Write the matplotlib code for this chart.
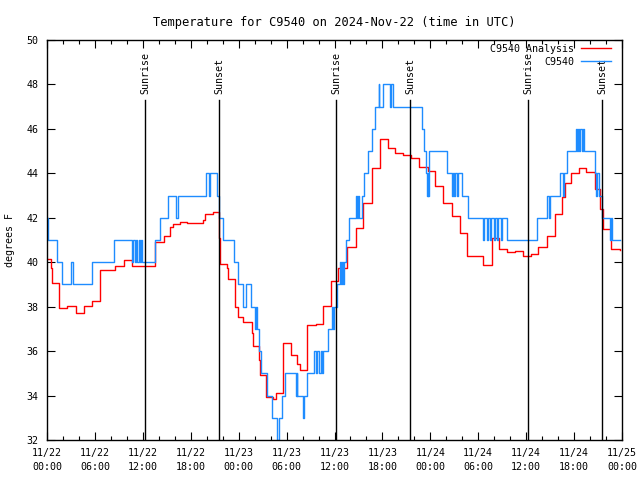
import matplotlib
matplotlib.use('Agg')
import matplotlib.pyplot as plt
import matplotlib.transforms as mtransforms
from matplotlib.ticker import MultipleLocator

plt.rcParams['font.family'] = ['DejaVu Sans Mono']
plt.rcParams['font.size'] = 7.2

# hours since 2024-11-22 00:00 UTC
obs_hours = [0.0, 0.09, 1.29, 1.84, 2.97, 3.22, 5.60, 8.39, 10.68, 10.81, 11.02, 11.14,
             11.33, 11.46, 11.65, 11.77, 11.90, 13.49, 14.15, 15.19, 16.12, 16.37, 19.91,
             20.29, 20.41, 21.32, 21.50, 22.08, 23.42, 23.95, 24.58, 24.92, 25.51, 26.01,
             26.13, 26.26, 26.55, 26.80, 27.51, 28.21, 28.86, 29.01, 29.46, 29.80, 31.18,
             31.27, 31.34, 32.09, 32.24, 32.52, 33.47, 33.68, 33.81, 34.12, 34.25, 34.44,
             34.56, 35.15, 35.65, 35.81, 35.94, 36.28, 36.69, 36.82, 37.00, 37.10, 37.23,
             37.40, 37.82, 38.66, 38.76, 38.94, 39.07, 39.48, 39.73, 40.23, 40.66, 41.07,
             41.51, 41.60, 42.07, 42.95, 43.11, 43.36, 46.99, 47.21, 47.40, 47.52, 47.65,
             47.77, 47.83, 50.05, 50.68, 50.80, 50.97, 51.09, 51.28, 51.41, 51.93, 52.76,
             54.63, 54.78, 55.04, 55.16, 55.47, 55.60, 55.91, 56.04, 56.35, 56.48, 56.79,
             56.94, 57.56, 61.40, 62.67, 62.86, 62.99, 64.18, 64.61, 64.74, 65.11, 66.20,
             66.33, 66.49, 66.61, 66.80, 66.93, 67.12, 67.28, 68.56, 68.75, 68.93, 69.06,
             69.54, 70.54, 70.63, 70.79, 71.75]
obs_temp = [42, 41, 40, 39, 40, 39, 40, 41, 40, 41, 40, 41,
            40, 41, 40, 41, 40, 41, 42, 43, 42, 43, 44,
            43, 44, 43, 42, 41, 40, 39, 38, 39, 38, 37,
            38, 37, 36, 35, 34, 33, 32, 33, 34, 35, 34,
            35, 34, 33, 34, 35, 36, 35, 36, 35, 36, 35,
            36, 37, 38, 37, 38, 39, 40, 39, 40, 39, 40,
            41, 42, 43, 42, 43, 42, 43, 44, 45, 46, 47,
            48, 47, 48, 47, 48, 47, 46, 45, 44, 43, 44,
            43, 45, 44, 43, 44, 43, 44, 43, 44, 43, 42,
            41, 42, 41, 42, 41, 42, 41, 42, 41, 42, 41,
            42, 41, 42, 43, 42, 43, 44, 43, 44, 45, 46,
            45, 46, 45, 46, 45, 46, 45, 44, 43, 44, 43,
            42, 41, 42, 41, 41]

ana_hours = [0.0, 0.46, 0.66, 1.50, 2.54, 3.59, 4.63, 5.67, 6.60, 8.51, 9.64, 10.68,
             13.52, 14.65, 15.40, 15.78, 16.65, 17.49, 19.57, 19.78, 20.75, 21.54, 21.63,
             22.50, 22.70, 23.54, 23.92, 24.58, 25.63, 25.80, 26.58, 26.67, 27.42, 28.26,
             28.68, 29.59, 30.55, 31.30, 31.68, 32.59, 33.65, 34.60, 35.56, 36.40, 37.53,
             38.66, 39.61, 40.66, 41.70, 42.66, 43.58, 44.62, 45.54, 46.62, 47.67, 48.59,
             49.62, 50.68, 51.72, 52.63, 54.63, 55.69, 56.64, 57.66, 58.60, 59.60, 60.61,
             61.52, 62.57, 63.61, 64.53, 64.86, 65.58, 66.62, 67.50, 68.62, 69.25, 69.62,
             70.63, 71.75]
ana_temp = [40.13, 39.73, 39.05, 37.95, 38.03, 37.70, 38.03, 38.25, 39.65, 39.83, 40.10, 39.85,
            40.90, 41.20, 41.60, 41.70, 41.80, 41.75, 41.90, 42.15, 42.28, 41.10, 39.92,
            39.73, 39.23, 38.00, 37.55, 37.33, 36.80, 36.25, 35.60, 34.92, 33.95, 33.83,
            34.10, 36.35, 35.83, 35.42, 35.15, 37.17, 37.20, 38.03, 39.17, 39.73, 40.70,
            41.52, 42.65, 44.23, 45.55, 45.13, 44.90, 44.83, 44.68, 44.27, 44.12, 43.43,
            42.65, 42.10, 41.33, 40.28, 39.87, 41.07, 40.58, 40.44, 40.52, 40.30, 40.35,
            40.67, 41.18, 42.15, 42.92, 43.58, 44.00, 44.23, 44.08, 43.30, 42.40, 41.48,
            40.60, 40.55]

sunrise_hours = [12.27, 36.19, 60.23]
sunset_hours = [21.54, 45.45, 69.50]

xtick_hours = list(range(0, 73, 6))
xtick_labels = ['11/22\n00:00', '11/22\n06:00', '11/22\n12:00', '11/22\n18:00',
                '11/23\n00:00', '11/23\n06:00', '11/23\n12:00', '11/23\n18:00',
                '11/24\n00:00', '11/24\n06:00', '11/24\n12:00', '11/24\n18:00',
                '11/25\n00:00']

fig = plt.figure(figsize=(6.4, 4.8), dpi=100)
ax = fig.add_axes([47 / 640, 40 / 480, 575 / 640, 400 / 480])

ax.step(ana_hours, ana_temp, where='post', color='#ff0000', lw=1.0, label='C9540 Analysis')
ax.step(obs_hours, obs_temp, where='post', color='#1e8cff', lw=1.0, label='C9540')

trans = mtransforms.blended_transform_factory(ax.transData, ax.transAxes)
for h in sunrise_hours:
    ax.axvline(h, ymin=0, ymax=0.85, color='black', lw=1.0)
    ax.text(h, 0.865, 'Sunrise', rotation=90, ha='center', va='bottom', transform=trans)
for h in sunset_hours:
    ax.axvline(h, ymin=0, ymax=0.85, color='black', lw=1.0)
    ax.text(h, 0.865, 'Sunset', rotation=90, ha='center', va='bottom', transform=trans)

ax.set_xlim(0, 72)
ax.set_ylim(32, 50)
ax.set_xticks(xtick_hours)
ax.set_xticklabels(xtick_labels, linespacing=1.45)
ax.xaxis.set_minor_locator(MultipleLocator(2))
ax.yaxis.set_major_locator(MultipleLocator(2))
ax.tick_params(which='both', direction='in', top=True, right=True, width=0.8, color='black')
ax.tick_params(which='major', length=6)
ax.tick_params(axis='x', which='major', pad=6)
ax.tick_params(axis='y', which='major', pad=6)
ax.tick_params(which='minor', length=3)
for s in ax.spines.values():
    s.set_linewidth(1.0)

ax.set_ylabel('degrees F')
ax.yaxis.set_label_coords(-0.055, 0.5)
ax.set_title('Temperature for C9540 on 2024-Nov-22 (time in UTC)', pad=10)

ax.legend(loc='upper right', bbox_to_anchor=(0.988, 1.0), frameon=False, markerfirst=False,
          handlelength=3.0, handletextpad=0.7, borderaxespad=0.0, labelspacing=0.3,
          borderpad=0.4)

fig.savefig('out.png', dpi=100)
